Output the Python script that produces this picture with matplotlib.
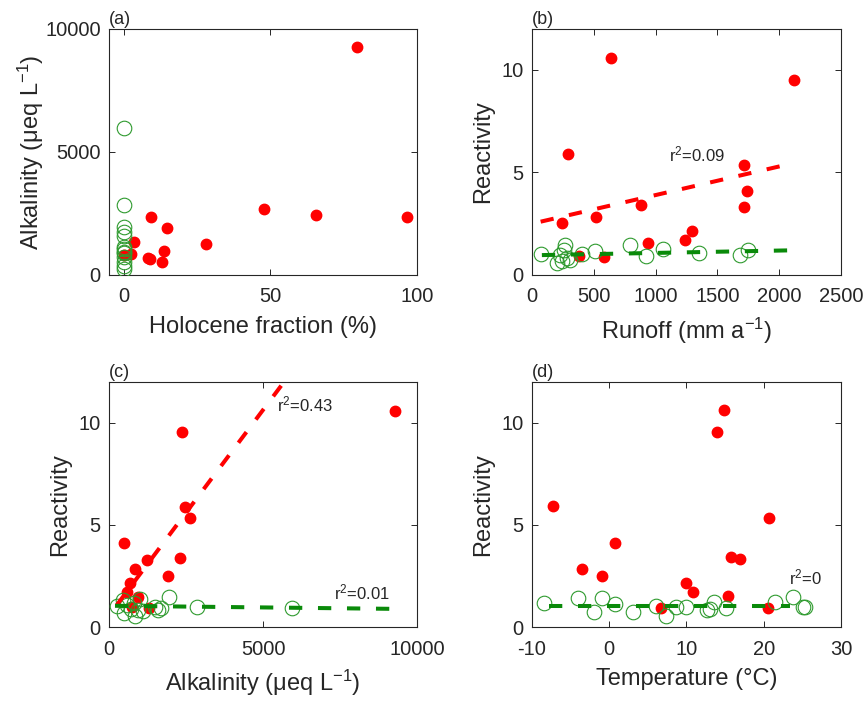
import matplotlib as mpl
mpl.use('Agg')
from matplotlib import pyplot as plt

# ---- data ----
# (a) Holocene fraction vs alkalinity
holo_red = [79.5, 48, 65.5, 96.7, 9.3, 14.9, 28.1, 3.4, 13.7, 2.6, 8.2, 8.9, 13.2, 0]
alk_red_a = [9256, 2670, 2451, 2371, 2344, 1924, 1247, 1328, 989, 840, 705, 637, 515, 800]
holo_green = [0, 0, 0, 0, 0, 0, 0, 0, 0, 0, 0, 0, 0]
alk_green_a = [5960, 2850, 1965, 1760, 1590, 1040, 880, 720, 540, 370, 250, 950, 1150]

# (b) runoff vs reactivity
runoff_red = [642, 2119, 293, 1715, 1740, 1715, 881, 518, 244, 1298, 1238, 940, 585, 382]
react_red_b = [10.57, 9.51, 5.89, 5.37, 4.11, 3.30, 3.41, 2.83, 2.54, 2.16, 1.71, 1.55, 0.89, 0.93]
runoff_green = [70, 268, 255, 228, 200, 282, 310, 407, 507, 791, 919, 1062, 1352, 1683, 1751, 240]
react_green_b = [1.01, 1.46, 1.22, 0.98, 0.57, 0.81, 0.75, 1.01, 1.17, 1.45, 0.93, 1.28, 1.09, 0.99, 1.22, 0.70]
fit_b_red_x = [70, 2040]
fit_b_red_y = [2.60, 5.35]
fit_b_green_x = [80, 2080]
fit_b_green_y = [0.97, 1.20]

# (c) alkalinity vs reactivity
alk_red_c = [9276, 2381, 2468, 2630, 487, 2305, 1244, 844, 1926, 682, 574, 952, 1309, 757]
react_red_c = [10.59, 9.53, 5.90, 5.35, 4.11, 3.40, 3.30, 2.84, 2.50, 2.16, 1.72, 1.48, 0.91, 0.99]
alk_green_c = [250, 450, 500, 600, 700, 800, 850, 950, 1000, 1100, 1500, 1600, 1700, 1950, 2850, 5950]
react_green_c = [1.04, 1.30, 0.70, 1.10, 0.90, 1.20, 0.55, 0.85, 1.35, 0.80, 1.00, 0.85, 0.92, 1.48, 0.99, 0.93]
fit_c_red_x = [250, 5680]
fit_c_red_y = [1.07, 12.0]
fit_c_green_x = [195, 9210]
fit_c_green_y = [1.04, 0.89]

# (d) temperature vs reactivity
temp_red = [-7.3, -3.5, -1.0, 0.7, 6.7, 10.0, 10.9, 13.9, 14.9, 15.4, 15.8, 16.9, 20.7, 20.5]
react_red_d = [5.92, 2.84, 2.51, 4.12, 0.91, 2.17, 1.73, 9.55, 10.61, 1.52, 3.41, 3.31, 5.36, 0.91]
temp_green = [-8.5, -4.1, -2.0, -1.0, 0.7, 3.1, 6.1, 7.4, 8.6, 10.0, 12.6, 13.0, 13.5, 15.1, 21.5, 23.8, 25.1, 25.3]
react_green_d = [1.16, 1.40, 0.75, 1.40, 1.12, 0.75, 1.04, 0.54, 0.99, 0.99, 0.83, 0.87, 1.24, 0.91, 1.21, 1.45, 0.99, 0.99]
fit_d_green_x = [-7.8, 23.4]
fit_d_green_y = [1.04, 1.04]

plt.rcParams['font.family'] = ['Liberation Sans', 'DejaVu Sans']
plt.rcParams['mathtext.fontset'] = 'custom'
plt.rcParams['mathtext.rm'] = 'Liberation Sans'
plt.rcParams['mathtext.it'] = 'Liberation Sans'
plt.rcParams['axes.unicode_minus'] = False
plt.rcParams['text.color'] = '#262626'
plt.rcParams['axes.labelcolor'] = '#262626'
plt.rcParams['xtick.color'] = '#262626'
plt.rcParams['ytick.color'] = '#262626'

RED = '#ff0000'
GREEN = '#2e9a2e'
LINE_GREEN = '#0a8a0a'
DASH = (0, (3.3, 3.9))
LBL = 17
TXT = 12

fig = plt.figure(figsize=(8.67, 7.02), dpi=100)
boxes = {
    'a': [0.1257, 0.6083, 0.3553, 0.3504],
    'b': [0.6136, 0.6083, 0.3564, 0.3504],
    'c': [0.1257, 0.1068, 0.3553, 0.3490],
    'd': [0.6136, 0.1068, 0.3564, 0.3490],
}
axs = {k: fig.add_axes(v) for k, v in boxes.items()}


def style(ax, tag):
    for s in ax.spines.values():
        s.set_color('#262626')
        s.set_linewidth(0.8)
    ax.tick_params(direction='in', top=True, right=True, labelsize=14.5,
                   length=4, width=0.7)
    ax.tick_params(axis='x', pad=9)
    ax.tick_params(axis='y', pad=6)
    ax.text(0.0, 1.005, '(%s)' % tag, transform=ax.transAxes, fontsize=13,
            ha='left', va='bottom')


def pts(ax, xr, yr, xg, yg):
    ax.plot(xg, yg, 'o', mfc='none', mec=GREEN, mew=0.8, ms=10.5, zorder=3)
    ax.plot(xr, yr, 'o', color=RED, ms=7.5, zorder=2)


ax = axs['a']
pts(ax, holo_red, alk_red_a, holo_green, alk_green_a)
ax.set_xlim(-5, 100)
ax.set_ylim(0, 10000)
ax.set_xticks([0, 50, 100])
ax.set_yticks([0, 5000, 10000])
ax.set_xlabel('Holocene fraction (%)', fontsize=LBL, labelpad=7)
ax.set_ylabel('Alkalinity (μeq L$^{-1}$)', fontsize=LBL, labelpad=-1)
style(ax, 'a')

ax = axs['b']
pts(ax, runoff_red, react_red_b, runoff_green, react_green_b)
ax.plot(fit_b_red_x, fit_b_red_y, color=RED, lw=2.9, ls=DASH, zorder=4)
ax.plot(fit_b_green_x, fit_b_green_y, color=LINE_GREEN, lw=2.9, ls=DASH, zorder=4)
ax.text(1110, 5.9, 'r$^2$=0.09', fontsize=TXT, va='center')
ax.set_xlim(0, 2500)
ax.set_ylim(0, 12)
ax.set_xticks([0, 500, 1000, 1500, 2000, 2500])
ax.set_yticks([0, 5, 10])
ax.set_xlabel('Runoff (mm a$^{-1}$)', fontsize=LBL, labelpad=7)
ax.set_ylabel('Reactivity', fontsize=LBL, labelpad=5)
style(ax, 'b')

ax = axs['c']
pts(ax, alk_red_c, react_red_c, alk_green_c, react_green_c)
ax.plot(fit_c_red_x, fit_c_red_y, color=RED, lw=2.9, ls=DASH, zorder=4)
ax.plot(fit_c_green_x, fit_c_green_y, color=LINE_GREEN, lw=2.9, ls=DASH, zorder=4)
ax.text(5450, 10.9, 'r$^2$=0.43', fontsize=TXT, va='center')
ax.text(7290, 1.7, 'r$^2$=0.01', fontsize=TXT, va='center')
ax.set_xlim(0, 10000)
ax.set_ylim(0, 12)
ax.set_xticks([0, 5000, 10000])
ax.set_yticks([0, 5, 10])
ax.set_xlabel('Alkalinity (μeq L$^{-1}$)', fontsize=LBL, labelpad=7)
ax.set_ylabel('Reactivity', fontsize=LBL, labelpad=5)
style(ax, 'c')

ax = axs['d']
pts(ax, temp_red, react_red_d, temp_green, react_green_d)
ax.plot(fit_d_green_x, fit_d_green_y, color=LINE_GREEN, lw=2.9, ls=DASH, zorder=4)
ax.text(23.3, 2.45, 'r$^2$=0', fontsize=TXT, va='center')
ax.set_xlim(-10, 30)
ax.set_ylim(0, 12)
ax.set_xticks([-10, 0, 10, 20, 30])
ax.set_yticks([0, 5, 10])
ax.set_xlabel('Temperature (°C)', fontsize=LBL, labelpad=7)
ax.set_ylabel('Reactivity', fontsize=LBL, labelpad=5)
style(ax, 'd')

fig.savefig('out.png', dpi=100)
